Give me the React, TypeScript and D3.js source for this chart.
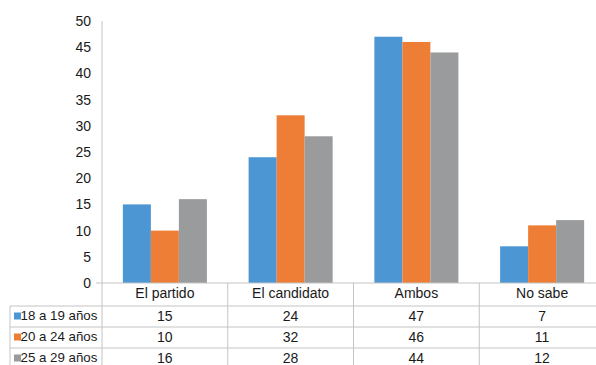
import React from "react";
import * as d3 from "d3";

const categories = ["El partido", "El candidato", "Ambos", "No sabe"];
const seriesNames = ["18 a 19 años", "20 a 24 años", "25 a 29 años"];
const s18_19 = [15, 24, 47, 7];
const s20_24 = [10, 32, 46, 11];
const s25_29 = [16, 28, 44, 12];
const yTicks = [0, 5, 10, 15, 20, 25, 30, 35, 40, 45, 50];
const colors = ["#4b96d3", "#ee7d35", "#9a9b9c"];

export default function App() {
  const W = 596, H = 365;
  const seriesValues = [s18_19, s20_24, s25_29];
  const x0 = 102, x1 = 605;
  const yBase = 283, yTop = 21;
  const x = d3.scaleBand<string>().domain(categories).range([x0, x1]).paddingInner(0).paddingOuter(0);
  const xs = d3.scaleBand<string>().domain(seriesNames).range([0, x.bandwidth()]).paddingInner(0).paddingOuter(0.745);
  const y = d3.scaleLinear().domain([0, 50]).range([yBase, yTop]);
  const rowH = 21;
  const catRowTop = yBase;
  const rowsTop = yBase + 23;
  const lineColor = "#c4c4c4";
  const font = "'Liberation Sans', Arial, sans-serif";
  const textColor = "#1a1a1a";
  return (
    <svg width={W} height={H} style={{ position: "absolute", left: 0, top: 0, background: "#fff" }} fontFamily={font}>
      <rect width={W} height={H} fill="#fff" />
      {/* y axis */}
      <line x1={x0} x2={x0} y1={yTop} y2={H} stroke={lineColor} strokeWidth={1} />
      {yTicks.map((t) => (
        <text key={t} x={91} y={y(t)} dy="0.35em" textAnchor="end" fontSize={14} fill={textColor}>
          {t}
        </text>
      ))}
      {/* bars */}
      {categories.map((c, ci) => (
        <g key={c}>
          {seriesNames.map((s, si) => (
            <rect
              key={s}
              x={(x(c) as number) + (xs(s) as number)}
              y={y(seriesValues[si][ci])}
              width={xs.bandwidth()}
              height={yBase - y(seriesValues[si][ci])}
              fill={colors[si]}
            />
          ))}
        </g>
      ))}
      {/* baseline */}
      <line x1={x0 - 6} x2={x1} y1={yBase} y2={yBase} stroke={lineColor} strokeWidth={1} />
      {/* table grid */}
      {categories.map((c) => (
        <line key={c} x1={(x(c) as number) + x.bandwidth()} x2={(x(c) as number) + x.bandwidth()} y1={catRowTop} y2={H} stroke={lineColor} />
      ))}
      <line x1={10} x2={10} y1={rowsTop} y2={H} stroke={lineColor} />
      {seriesNames.map((s, si) => (
        <line key={s} x1={10} x2={x1} y1={rowsTop + si * rowH} y2={rowsTop + si * rowH} stroke={lineColor} />
      ))}
      {/* category labels */}
      {categories.map((c) => (
        <text key={c} x={(x(c) as number) + x.bandwidth() / 2} y={catRowTop + 10.5} dy="0.35em" textAnchor="middle" fontSize={14} fill={textColor}>
          {c}
        </text>
      ))}
      {/* rows */}
      {seriesNames.map((s, si) => (
        <g key={s}>
          <rect x={14} y={rowsTop + si * rowH + rowH / 2 - 4} width={7} height={7} fill={colors[si]} />
          <text x={20.5} y={rowsTop + si * rowH + rowH / 2 - 0.8} dy="0.35em" fontSize={13.3} fill={textColor}>
            {s}
          </text>
          {categories.map((c, ci) => (
            <text key={c} x={(x(c) as number) + x.bandwidth() / 2} y={rowsTop + si * rowH + rowH / 2 - 0.8} dy="0.35em" textAnchor="middle" fontSize={14} fill={textColor}>
              {seriesValues[si][ci]}
            </text>
          ))}
        </g>
      ))}
    </svg>
  );
}
